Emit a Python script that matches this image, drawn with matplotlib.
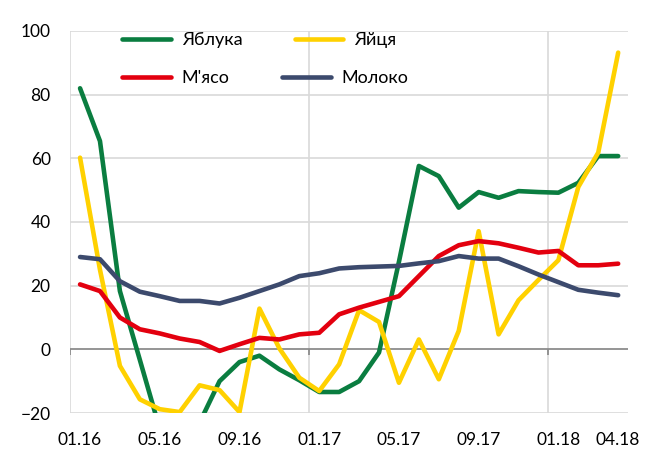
import matplotlib
matplotlib.use("Agg")
import matplotlib.pyplot as plt

# monthly data, 01.16 .. 04.18 (28 months)
months = ["01.16", "02.16", "03.16", "04.16", "05.16", "06.16", "07.16", "08.16",
          "09.16", "10.16", "11.16", "12.16", "01.17", "02.17", "03.17", "04.17",
          "05.17", "06.17", "07.17", "08.17", "09.17", "10.17", "11.17", "12.17",
          "01.18", "02.18", "03.18", "04.18"]
tick_labels = ["01.16", "05.16", "09.16", "01.17", "05.17", "09.17", "01.18", "04.18"]

apples = [82, 65.4, 18.3, -3.3, -25, -28, -23, -10, -4, -2, -6.3, -9.7, -13.4, -13.4,
          -10, -1, 27.5, 57.6, 54.4, 44.5, 49.4, 47.6, 49.7, 49.4, 49.2, 52.3, 60.7, 60.7]
eggs = [60.2, 25, -5.2, -15.7, -18.8, -19.7, -11.3, -12.8, -19.7, 12.8, 0.3, -8.9, -13.1,
        -4.7, 12.3, 8.6, -10.5, 3.1, -9.4, 5.8, 37.1, 4.7, 15.4, 21.8, 28, 51, 61.8, 93.2]
meat = [20.4, 18.3, 10, 6.3, 5.0, 3.4, 2.3, -0.5, 1.6, 3.6, 3.1, 4.7, 5.2, 11, 13.1,
        14.9, 16.7, 23, 29.3, 32.7, 34.0, 33.3, 31.9, 30.4, 30.9, 26.4, 26.4, 26.9]
milk = [29, 28.3, 21.4, 18.1, 16.7, 15.2, 15.2, 14.4, 16.2, 18.3, 20.4, 23.0, 23.9,
        25.4, 25.8, 26, 26.2, 27, 27.7, 29.3, 28.5, 28.5, 26.1, 23.5, 21.1, 18.7, 17.8, 17]

plt.rcParams['font.family'] = ['Lato', 'DejaVu Sans']

fig = plt.figure(figsize=(6.55, 4.5), dpi=100)
ax = fig.add_axes([0.107, 0.0822, 0.852, 0.849])

x = list(range(len(months)))
style = dict(lw=3.3, solid_capstyle='round', solid_joinstyle='round')
l_apples, = ax.plot(x, apples, color='#0a7d40', label='Яблука', zorder=3, **style)
l_eggs, = ax.plot(x, eggs, color='#ffd100', label='Яйця', zorder=4, **style)
l_meat, = ax.plot(x, meat, color='#e3000f', label="М'ясо", zorder=5, **style)
l_milk, = ax.plot(x, milk, color='#3c4a6d', label='Молоко', zorder=6, **style)

ax.set_xlim(-0.5, len(months) - 0.5)
ax.set_ylim(-20, 100)
ax.set_yticks(range(-20, 101, 20))
ax.set_xticks([months.index(t) for t in tick_labels])
ax.set_xticklabels(tick_labels)
ax.tick_params(axis='both', length=0, labelsize=12.5, colors='black')
ax.tick_params(axis='y', pad=14)
ax.tick_params(axis='x', pad=14)

for s in ax.spines.values():
    s.set_visible(False)

# gridlines
for yv in range(-20, 101, 20):
    if yv != 0:
        ax.axhline(yv, color='#d9d9d9', lw=1.2, zorder=1)
for xv in [-0.5, 11.5, 23.5]:
    ax.axvline(xv, color='#d9d9d9', lw=1.2, zorder=1)
ax.axhline(0, color='#8c8c8c', lw=1.3, zorder=2)
ax.vlines([-0.5, 11.5, 23.5], -1.8, 0, color='#8c8c8c', lw=1.3, zorder=2)

# legend: two rows laid out separately, like the Excel original
leg_kw = dict(ncol=2, loc='upper left', frameon=False, fontsize=13, handlelength=2.7,
              handletextpad=0.6, columnspacing=2.9, borderpad=0, borderaxespad=0)
leg1 = ax.legend([l_apples, l_eggs], ['Яблука', 'Яйця'],
                 bbox_to_anchor=(0.093, 0.997), **leg_kw)
ax.add_artist(leg1)
ax.legend([l_meat, l_milk], ["М'ясо", 'Молоко'],
          bbox_to_anchor=(0.093, 0.898), **leg_kw)

fig.savefig('out.png', dpi=100)
